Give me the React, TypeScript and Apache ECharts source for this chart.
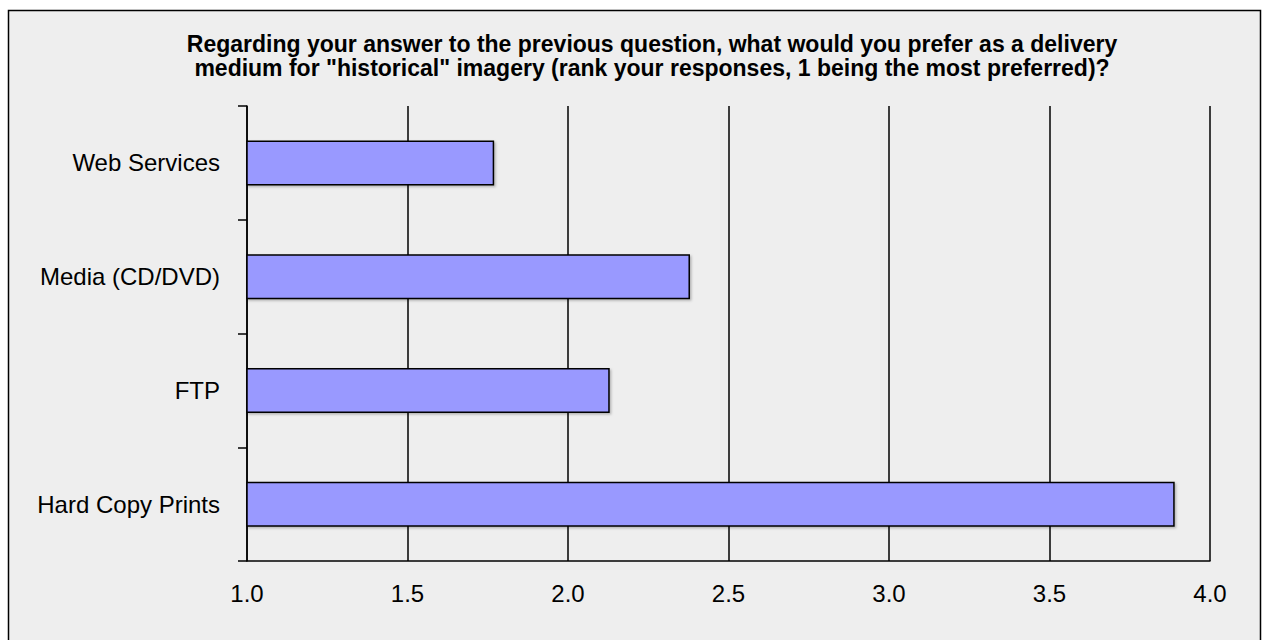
import React, { useEffect, useRef } from "react";
import * as echarts from "echarts";

const titleLines = [
  'Regarding your answer to the previous question, what would you prefer as a delivery',
  'medium for "historical" imagery (rank your responses, 1 being the most preferred)?',
];
const categories = ["Web Services", "Media (CD/DVD)", "FTP", "Hard Copy Prints"];
const values = [1.77, 2.38, 2.13, 3.89];
const axisMin = 1.0;
const axisMax = 4.0;
const axisStep = 0.5;

const FONT = '"Liberation Sans", Arial, sans-serif';

export default function App() {
  const ref = useRef<HTMLDivElement>(null);
  useEffect(() => {
    if (!ref.current) return;
    const chart = echarts.init(ref.current, undefined, { renderer: "svg" });
    chart.setOption({
      animation: false,
      backgroundColor: "#ffffff",
      graphic: [
        {
          type: "rect",
          z: -10,
          shape: { x: 8.5, y: 10.5, width: 1252, height: 660 },
          style: { fill: "#EEEEEE", stroke: "#000000", lineWidth: 1.5 },
        },
      ],
      title: {
        text: titleLines.join("\n"),
        left: 647,
        top: 27,
        textAlign: "center",
        textStyle: {
          fontFamily: FONT,
          fontSize: 23,
          fontWeight: "bold",
          lineHeight: 24,
          color: "#000000",
        },
      },
      grid: { left: 247, right: 56, top: 106, bottom: 79, containLabel: false },
      xAxis: {
        type: "value",
        min: axisMin,
        max: axisMax,
        interval: axisStep,
        axisLine: { show: true, lineStyle: { color: "#000000", width: 1.5 } },
        axisTick: { show: false },
        splitLine: { show: true, lineStyle: { color: "#000000", width: 1.5 } },
        axisLabel: {
          margin: 20,
          fontFamily: FONT,
          fontSize: 24,
          color: "#000000",
          formatter: (v: number) => v.toFixed(1),
        },
      },
      yAxis: {
        type: "category",
        data: categories,
        inverse: true,
        axisLine: { show: true, lineStyle: { color: "#000000", width: 1.5 } },
        axisTick: { show: true, inside: false, length: 9, lineStyle: { color: "#000000", width: 1.5 } },
        splitLine: { show: false },
        axisLabel: {
          margin: 27,
          fontFamily: FONT,
          fontSize: 24,
          color: "#000000",
        },
      },
      series: [
        {
          type: "bar",
          data: values,
          barWidth: 45,
          itemStyle: {
            color: "#9999FF",
            borderColor: "#000000",
            borderWidth: 1.5,
            shadowColor: "rgba(0,0,0,0.25)",
            shadowOffsetX: 1.5,
            shadowOffsetY: 1.5,
            shadowBlur: 2,
          },
        },
      ],
    });
    return () => chart.dispose();
  }, []);
  return (
    <div
      ref={ref}
      style={{ position: "absolute", left: 0, top: 0, width: 1266, height: 640 }}
    />
  );
}
